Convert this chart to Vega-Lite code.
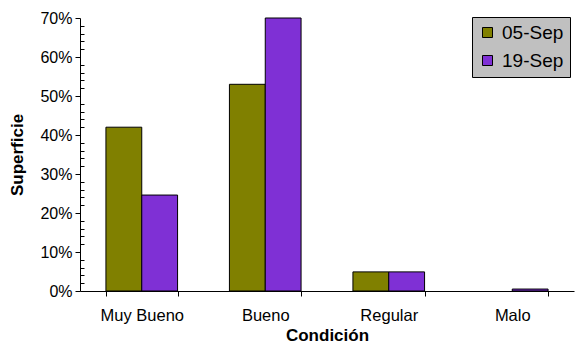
{
  "$schema": "https://vega.github.io/schema/vega-lite/v6.json",
  "width": 494,
  "height": 273,
  "autosize": {"type": "none"},
  "padding": {"left": 80, "top": 18, "right": 9, "bottom": 62},
  "background": "white",
  "config": {
    "view": {"stroke": null},
    "font": "Liberation Sans",
    "axis": {"grid": false, "domainColor": "black", "tickColor": "black", "labelColor": "black", "titleColor": "black", "labelFont": "Liberation Sans", "titleFont": "Liberation Sans"}
  },
  "data": {
    "values": [
      {"cond": "Muy Bueno", "fecha": "05-Sep", "sup": 0.42},
      {"cond": "Muy Bueno", "fecha": "19-Sep", "sup": 0.246},
      {"cond": "Bueno", "fecha": "05-Sep", "sup": 0.53},
      {"cond": "Bueno", "fecha": "19-Sep", "sup": 0.70},
      {"cond": "Regular", "fecha": "05-Sep", "sup": 0.049},
      {"cond": "Regular", "fecha": "19-Sep", "sup": 0.049},
      {"cond": "Malo", "fecha": "05-Sep", "sup": 0.0},
      {"cond": "Malo", "fecha": "19-Sep", "sup": 0.005}
    ]
  },
  "mark": {"type": "bar", "stroke": "black", "strokeWidth": 1},
  "encoding": {
    "x": {
      "field": "cond", "type": "nominal", "sort": ["Muy Bueno", "Bueno", "Regular", "Malo"],
      "scale": {"paddingInner": 0.42, "paddingOuter": 0.21},
      "axis": {"title": "Condición", "titleFontSize": 17, "titleFontWeight": "bold", "titlePadding": 4, "labelFontSize": 16.5, "labelAngle": 0, "labelPadding": 11, "tickBand": "extent", "tickSize": 5, "domainWidth": 1}
    },
    "xOffset": {"field": "fecha", "type": "nominal", "scale": {"paddingInner": 0}},
    "y": {
      "field": "sup", "type": "quantitative",
      "scale": {"domain": [0, 0.7], "nice": false},
      "axis": {
        "title": "Superficie", "titleFontSize": 17, "titleFontWeight": "bold", "titlePadding": 13,
        "values": [0,0.02,0.04,0.06,0.08,0.1,0.12,0.14,0.16,0.18,0.2,0.22,0.24,0.26,0.28,0.3,0.32,0.34,0.36,0.38,0.4,0.42,0.44,0.46,0.48,0.5,0.52,0.54,0.56,0.58,0.6,0.62,0.64,0.66,0.68,0.7],
        "labelExpr": "round(datum.value*100) % 10 == 0 ? format(datum.value, '.0%') : ''",
        "labelFontSize": 16, "labelPadding": 3,
        "tickSize": {"condition": {"test": "round(datum.value*100) % 10 == 0", "value": 5}, "value": -4}
      }
    },
    "strokeOpacity": {
      "condition": {"test": "datum.sup > 0", "value": 1},
      "value": 0
    },
    "color": {
      "field": "fecha", "type": "nominal",
      "scale": {"domain": ["05-Sep", "19-Sep"], "range": ["#808000", "#7F30D5"]},
      "legend": {
        "title": null, "orient": "none", "legendX": 392, "legendY": -1,
        "fillColor": "#C0C0C0", "strokeColor": "black", "padding": 6,
        "labelFontSize": 19, "labelColor": "black", "symbolType": "square", "symbolSize": 100,
        "symbolStrokeColor": "black", "symbolStrokeWidth": 1, "rowPadding": 8, "labelOffset": 5
      }
    }
  }
}
